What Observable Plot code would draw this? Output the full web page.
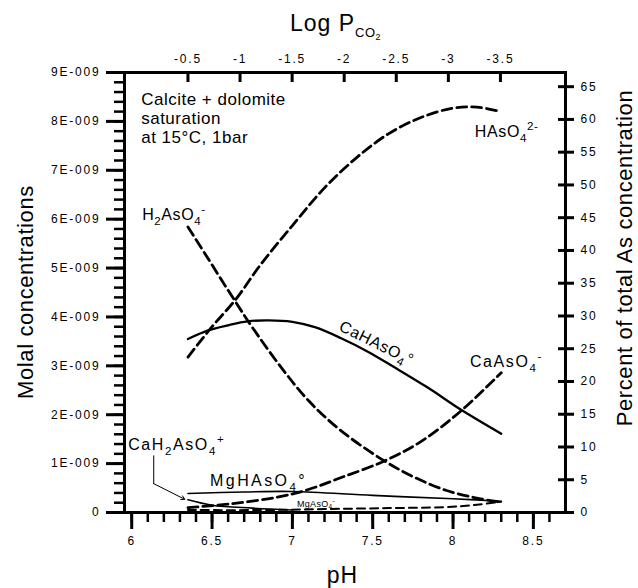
<!DOCTYPE html>
<html>
<head>
<meta charset="utf-8">
<script src="https://cdn.jsdelivr.net/npm/d3@7"></script>
<script src="https://cdn.jsdelivr.net/npm/@observablehq/plot@0.6"></script>
<style>
  html, body { margin: 0; padding: 0; background: #fff; overflow: hidden; }
  #chart svg { font-family: "Liberation Sans", Arial, sans-serif; font-size: 12px; }
  #chart svg g[aria-label$="tick label"] text { letter-spacing: 1.8px; }
</style>
</head>
<body>
<div id="chart"></div>
<script>
// ---------- data (molal concentrations vs pH) ----------
const hAsO4_pH = [6.35, 6.5, 6.65, 6.8, 7.0, 7.2, 7.4, 7.6, 7.8, 8.0, 8.15, 8.3];
const hAsO4_v  = [3.18e-9, 3.80e-9, 4.37e-9, 5.06e-9, 5.87e-9, 6.64e-9, 7.26e-9, 7.75e-9, 8.08e-9, 8.27e-9, 8.29e-9, 8.20e-9];

const h2AsO4_pH = [6.35, 6.47, 6.64, 6.75, 6.93, 7.1, 7.3, 7.57, 7.76, 7.96, 8.17, 8.3];
const h2AsO4_v  = [5.84e-9, 5.22e-9, 4.34e-9, 3.79e-9, 2.97e-9, 2.29e-9, 1.68e-9, 1.06e-9, 0.72e-9, 0.45e-9, 0.28e-9, 0.21e-9];

const caHAsO4_pH = [6.35, 6.48, 6.6, 6.72, 6.85, 7.0, 7.14, 7.3, 7.47, 7.63, 7.84, 8.05, 8.3];
const caHAsO4_v  = [3.55e-9, 3.73e-9, 3.83e-9, 3.91e-9, 3.93e-9, 3.90e-9, 3.79e-9, 3.57e-9, 3.29e-9, 2.98e-9, 2.56e-9, 2.10e-9, 1.61e-9];

const caAsO4_pH = [6.35, 6.62, 6.9, 7.09, 7.3, 7.57, 7.8, 8.05, 8.3];
const caAsO4_v  = [0.10e-9, 0.18e-9, 0.31e-9, 0.46e-9, 0.71e-9, 1.05e-9, 1.45e-9, 2.08e-9, 2.86e-9];

const mgHAsO4_pH = [6.35, 6.7, 7.0, 7.5, 8.0, 8.3];
const mgHAsO4_v  = [0.39e-9, 0.42e-9, 0.43e-9, 0.35e-9, 0.28e-9, 0.23e-9];

const caH2AsO4_pH = [6.35, 6.5, 6.75, 7.0];
const caH2AsO4_v  = [0.26e-9, 0.15e-9, 0.09e-9, 0.05e-9];

const mgAsO4_pH = [6.35, 6.8, 7.2, 7.6, 7.95, 8.15, 8.3];
const mgAsO4_v  = [0.05e-9, 0.05e-9, 0.07e-9, 0.09e-9, 0.11e-9, 0.16e-9, 0.22e-9];

// ---------- axes / tick values ----------
const pHTicks      = [6, 6.5, 7, 7.5, 8, 8.5];
const molalTicks   = [0, 1e-9, 2e-9, 3e-9, 4e-9, 5e-9, 6e-9, 7e-9, 8e-9, 9e-9];
const percentTicks = [0, 5, 10, 15, 20, 25, 30, 35, 40, 45, 50, 55, 60, 65];
const logPTicks    = [-0.5, -1, -1.5, -2, -2.5, -3, -3.5];
const logPAnchor   = [-0.5, -3.5];      // Log PCO2 at ...
const pHAnchor     = [6.35, 8.295];     // ... these pH values (ends of the curves)
const totalAs      = 1.34e-8;           // 100 % on the right axis

const toMolal = d3.scaleLinear().domain([0, 100]).range([0, totalAs]);
const logPtoPH = d3.scaleLinear().domain(logPAnchor).range(pHAnchor);

const minorPH    = d3.range(60, 87, 1).map(d => d / 10);
const minorMolal = d3.range(0, 46, 1).map(d => d * 0.2e-9);

function rows(name, xs, vs) { return xs.map((x, i) => ({species: name, pH: x, v: vs[i]})); }
const dashedMain = [
  ...rows("HAsO4", hAsO4_pH, hAsO4_v),
  ...rows("H2AsO4", h2AsO4_pH, h2AsO4_v),
  ...rows("CaAsO4", caAsO4_pH, caAsO4_v)
];
const solidMain = rows("CaHAsO4", caHAsO4_pH, caHAsO4_v);
const solidThin = [
  ...rows("MgHAsO4", mgHAsO4_pH, mgHAsO4_v),
  ...rows("CaH2AsO4", caH2AsO4_pH, caH2AsO4_v)
];
const dashedThin = rows("MgAsO4", mgAsO4_pH, mgAsO4_v);

// annotation anchors (data units)
const leaderLine  = [{pH: 6.137, v: 1.16e-9}, {pH: 6.137, v: 0.59e-9}];
const leaderArrow = [{x1: 6.137, y1: 0.59e-9, x2: 6.33, y2: 0.27e-9}];

const labels = [
  {pH: 8.139, v: 7.67e-9, size: 16, ls: 0.6, parts: [["HAsO"], ["4", "sub"], ["2-", "sup"]]},
  {pH: 6.068, v: 5.97e-9, size: 16, ls: 0.6, parts: [["H"], ["2", "sub"], ["AsO"], ["4", "sub"], ["-", "sup"]]},
  {pH: 7.287, v: 3.72e-9, size: 16, ls: 0.6, rotate: 26, parts: [["CaHAsO"], ["4", "sub"], ["°"]]},
  {pH: 8.108, v: 2.97e-9, size: 16, ls: 1.6, parts: [["CaAsO"], ["4", "sub"], ["-", "sup"]]},
  {pH: 5.981, v: 1.27e-9, size: 16, ls: 1.6, parts: [["CaH"], ["2", "sub"], ["AsO"], ["4", "sub"], ["+", "sup"]]},
  {pH: 6.491, v: 0.53e-9, size: 16, ls: 2.4, parts: [["MgHAsO"], ["4", "sub"], ["°"]]},
  {pH: 7.032, v: 0.11e-9, size: 9,  ls: 0.3, parts: [["MgAsO"], ["4", "sub"], ["-", "sup"]]}
];
const noteLines = ["Calcite + dolomite", "saturation", "at 15°C, 1bar"];
const noteAnchor = {pH: 6.062, v: 8.33e-9};

// ---------- layout ----------
const W = 638, H = 588, mt = 72, mr = 73, mb = 76, ml = 124;
const frameW = W - ml - mr, frameH = H - mt - mb;
const topTickPH = logPTicks.map(d => logPtoPH(d));
const rightTickMolal = percentTicks.map(d => toMolal(d));

const chart = Plot.plot({
  width: W, height: H,
  marginTop: mt, marginRight: mr, marginBottom: mb, marginLeft: ml,
  x: {domain: [5.955, 8.7], label: null},
  y: {domain: [0, 9e-9], label: null},
  marks: [
    // bottom pH axis
    Plot.axisX(minorPH, {anchor: "bottom", tickSize: 10, strokeWidth: 2.5, tickFormat: () => "", label: null}),
    Plot.axisX(pHTicks, {anchor: "bottom", tickSize: 17, tickPadding: 7, strokeWidth: 3, tickFormat: d => String(d), label: null}),
    // top Log PCO2 axis
    Plot.axisX(topTickPH, {anchor: "top", tickSize: 0, tickPadding: 10, tickFormat: d => String(Math.round(logPtoPH.invert(d) * 10) / 10), label: null}),
    Plot.tickX(topTickPH, {x: d => d, strokeWidth: 3, insetBottom: frameH - 10}),
    // left molal axis
    Plot.axisY(minorMolal, {anchor: "left", tickSize: 10, strokeWidth: 2.5, tickFormat: () => "", label: null}),
    Plot.axisY(molalTicks, {anchor: "left", tickSize: 18, tickPadding: 6, strokeWidth: 3,
      tickFormat: d => d === 0 ? "0" : `${Math.round(d * 1e9)}E-009`, label: null}),
    // right percent axis
    Plot.axisY(rightTickMolal, {anchor: "right", tickSize: 8, tickPadding: 7, strokeWidth: 3,
      tickFormat: d => String(Math.round(toMolal.invert(d))), label: null}),
    Plot.tickY(rightTickMolal, {y: d => d, strokeWidth: 3, insetLeft: frameW - 7}),
    Plot.frame({strokeWidth: 3}),
    // curves
    Plot.line(dashedMain, {x: "pH", y: "v", z: "species", stroke: "black", strokeWidth: 2.8, strokeDasharray: "10,5", curve: "catmull-rom"}),
    Plot.line(solidMain, {x: "pH", y: "v", z: "species", stroke: "black", strokeWidth: 2.3, curve: "catmull-rom"}),
    Plot.line(solidThin, {x: "pH", y: "v", z: "species", stroke: "black", strokeWidth: 1.6, curve: "catmull-rom"}),
    Plot.line(dashedThin, {x: "pH", y: "v", z: "species", stroke: "black", strokeWidth: 2, strokeDasharray: "8,5", curve: "catmull-rom"}),
    // leader for CaH2AsO4+
    Plot.line(leaderLine, {x: "pH", y: "v", stroke: "black", strokeWidth: 1}),
    Plot.arrow(leaderArrow, {x1: "x1", y1: "y1", x2: "x2", y2: "y2", stroke: "black", strokeWidth: 1, headLength: 6})
  ]
});
document.getElementById("chart").appendChild(chart);

// ---------- rich text labels ----------
const sx = chart.scale("x"), sy = chart.scale("y");
const svgSel = d3.select(chart);
const gLab = svgSel.append("g").attr("fill", "black").attr("text-anchor", "start")
  .attr("font-family", '"Liberation Sans", Arial, sans-serif');

function rich(x, y, parts, size, ls, rotate) {
  const t = gLab.append("text").attr("x", x).attr("y", y).attr("font-size", size)
    .attr("text-anchor", "start").style("letter-spacing", ls + "px");
  if (rotate) t.attr("transform", `rotate(${rotate},${x},${y})`);
  let cur = 0;
  for (const [txt, kind] of parts) {
    const off = kind === "sub" ? size * 0.3 : kind === "sup" ? -size * 0.42 : 0;
    const fs = kind ? size * 0.72 : size;
    t.append("tspan").attr("dy", off - cur).attr("font-size", fs).text(txt);
    cur = off;
  }
  return t;
}

for (const L of labels) rich(sx.apply(L.pH), sy.apply(L.v), L.parts, L.size, L.ls, L.rotate);

// note text
noteLines.forEach((line, i) => {
  gLab.append("text").attr("x", sx.apply(noteAnchor.pH)).attr("y", sy.apply(noteAnchor.v) + i * 19)
    .attr("font-size", 17).attr("text-anchor", "start").style("letter-spacing", "0.5px").text(line);
});

// axis titles
const topTitle = gLab.append("text").attr("x", 290).attr("y", 31).attr("font-size", 23)
  .attr("text-anchor", "start").style("letter-spacing", "1px");
topTitle.append("tspan").text("Log P");
topTitle.append("tspan").attr("font-size", 13).attr("dy", 6).style("letter-spacing", "0.5px").text("CO");
topTitle.append("tspan").attr("font-size", 9).attr("dy", 3).text("2");

gLab.append("text").attr("x", ml + frameW / 2 - 2).attr("y", H - 5).attr("text-anchor", "middle")
  .attr("font-size", 23).style("letter-spacing", "1px").text("pH");

gLab.append("text").attr("transform", `translate(33,${mt + frameH / 2}) rotate(-90)`).attr("text-anchor", "middle")
  .attr("font-size", 22).style("letter-spacing", "0.6px").text("Molal concentrations");

gLab.append("text").attr("transform", `translate(632,258) rotate(-90)`).attr("text-anchor", "middle")
  .attr("font-size", 22).style("letter-spacing", "0.6px").text("Percent of total As concentration");
</script>
</body>
</html>
